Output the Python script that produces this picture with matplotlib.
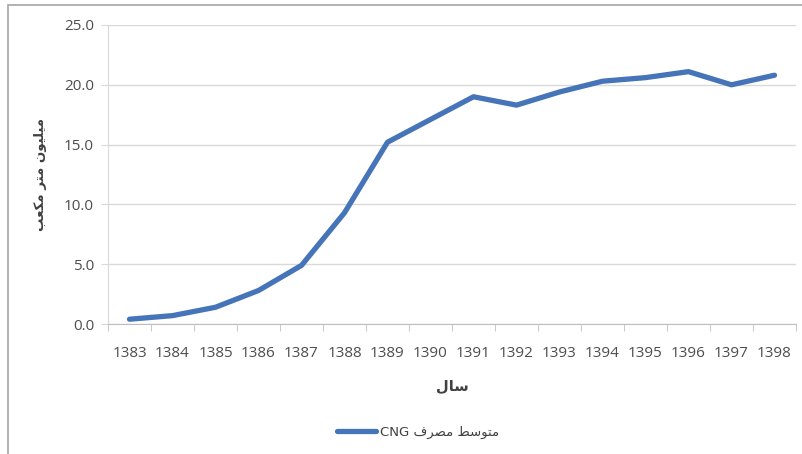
import matplotlib.pyplot as plt
from matplotlib.patches import Rectangle

# CNG consumption per year (million cubic metres)
years = ["1383", "1384", "1385", "1386", "1387", "1388", "1389", "1390",
         "1391", "1392", "1393", "1394", "1395", "1396", "1397", "1398"]
consumption = [0.4, 0.7, 1.4, 2.8, 4.9, 9.3, 15.2, 17.1,
               19.0, 18.3, 19.4, 20.3, 20.6, 21.1, 20.0, 20.8]
y_ticks = [0, 5, 10, 15, 20, 25]

# Persian labels, pre-shaped into presentation forms in visual order
x_title = "\uFEDD\uFE8E\uFEB3"                       # سال
y_title = ("\uFE90\uFECC\uFB91\uFEE3 "                # مکعب
           "\uFEAE\uFE98\uFEE3 "                      # متر
           "\uFEE5\uFEEE\uFEF4\uFEE0\uFEF4\uFEE3")    # میلیون
series_name = ("CNG \uFED1\uFEAE\uFEBC\uFEE3 "        # مصرف
               "\uFEC2\uFEB3\uFEEE\uFE98\uFEE3")      # متوسط

LINE_COLOR = "#4674b8"
GRID_COLOR = "#d9d9d9"
TEXT_COLOR = "#4d4d4d"

plt.rcParams["font.family"] = ["Open Sans", "DejaVu Sans"]

fig = plt.figure(figsize=(8.03, 4.54), dpi=100)
ax = fig.add_axes([108 / 803, 130 / 454, 688 / 803, 299 / 454])

x = list(range(len(years)))
line, = ax.plot(x, consumption, color=LINE_COLOR, lw=3.8,
                solid_capstyle="round", solid_joinstyle="round")

ax.set_xlim(-0.5, len(years) - 0.5)
ax.set_ylim(0, 25)
ax.set_yticks(y_ticks)
ax.set_yticklabels([f"{v:.1f}" for v in y_ticks])
ax.set_xticks(x)
ax.set_xticklabels(years)
# category boundary ticks
ax.set_xticks([i - 0.5 for i in range(len(years) + 1)], minor=True)

ax.grid(axis="y", color=GRID_COLOR, lw=1)
ax.set_axisbelow(True)
for side in ("top", "right"):
    ax.spines[side].set_visible(False)
ax.spines["left"].set_color(GRID_COLOR)
ax.spines["bottom"].set_color("#bfbfbf")

ax.tick_params(axis="y", length=5, color=GRID_COLOR, labelsize=11,
               labelcolor=TEXT_COLOR, pad=5)
ax.tick_params(axis="x", which="major", length=0, labelsize=11,
               labelcolor=TEXT_COLOR, pad=16)
ax.tick_params(axis="x", which="minor", length=5, color="#bfbfbf")

ax.set_xlabel(x_title, family=["DejaVu Sans"], fontsize=10.5,
              fontweight="bold", color="#404040", labelpad=12)
ax.set_ylabel(y_title, family=["DejaVu Sans"], fontsize=9.5,
              fontweight="bold", color="#404040", labelpad=12)

leg = fig.legend([line], [series_name], loc="center",
                 bbox_to_anchor=(418 / 803, 1 - 432 / 454), frameon=False,
                 prop={"family": ["DejaVu Sans"], "size": 9.5},
                 handlelength=3, handletextpad=0.3)
for t in leg.get_texts():
    t.set_color("#404040")

# chart frame
fig.add_artist(Rectangle((8 / 803, -0.1), 1.1, 1.1 - 5 / 454,
                         transform=fig.transFigure, fill=False,
                         edgecolor="#a6a6a6", lw=1.2))

fig.savefig("out.png", dpi=100)
